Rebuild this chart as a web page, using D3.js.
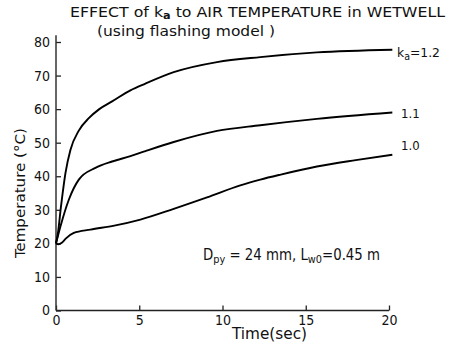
<!DOCTYPE html>
<html>
<head>
<meta charset="utf-8">
<script src="https://cdn.jsdelivr.net/npm/d3@7"></script>
<style>
  body { margin: 0; background: #fff; }
  svg { display: block; }
  text { font-family: 'DejaVu Sans Condensed', 'Liberation Sans Narrow', 'DejaVu Sans', sans-serif; fill: #111; }
</style>
</head>
<body>
<div id="chart"></div>
<script>
// values: time (sec) and air temperature (°C)
let tK12 = [0, 0.1, 0.3, 0.57, 0.87, 1.37, 1.97, 2.6, 3.37, 4.47, 5.37, 7.07, 9.67, 12.27, 15.67, 20.2]
let tempK12 = [20, 22.5, 31, 41, 47.9, 53.6, 57.3, 60, 62.3, 65.6, 67.6, 71.0, 74.0, 75.5, 76.9, 77.7]

let tK11 = [0, 0.27, 0.77, 1.37, 2.37, 3.37, 4.47, 5.37, 7.07, 9.67, 12.27, 15.67, 20.2]
let tempK11 = [20, 25.1, 33, 39, 42.5, 44.4, 46.0, 47.5, 50.2, 53.5, 55.2, 57.1, 59.0]

let tK10 = [0, 0.15, 0.35, 0.6, 1.07, 2.07, 3.5, 5.07, 7.07, 9.07, 11.07, 12.27, 13.5, 15.67, 18, 20.2]
let tempK10 = [20, 19.7, 20.2, 21.5, 23.1, 24.1, 25.3, 27.1, 30.3, 33.7, 37.3, 39.0, 40.5, 42.9, 44.8, 46.4]

let xTicks = [0, 5, 10, 15, 20]
let yTicks = [0, 10, 20, 30, 40, 50, 60, 70, 80]

let width = 455,
  height = 345

let svg = d3.select('#chart').append('svg')
  .attr('width', width)
  .attr('height', height)

let x = d3.scaleLinear()
  .domain([0, 20])
  .range([56, 389])

let y = d3.scaleLinear()
  .domain([0, 80])
  .range([310.5, 42])

// axes, ticks pointing inwards
let yAxis = svg.append('g')
  .attr('transform', 'translate(' + x(0) + ',0)')
  .call(d3.axisLeft(y).tickValues(yTicks).tickSizeInner(-5).tickSizeOuter(0).tickPadding(6))
yAxis.select('.domain').remove()

let xAxis = svg.append('g')
  .attr('transform', 'translate(0,' + y(0) + ')')
  .call(d3.axisBottom(x).tickValues(xTicks).tickSizeInner(-5).tickSizeOuter(0).tickPadding(5))
xAxis.select('.domain').remove()

svg.selectAll('.tick line')
  .attr('stroke', '#222')
  .attr('stroke-width', 1.3)
svg.selectAll('.tick text')
  .style('font-size', '14px')
  .attr('fill', '#111')

svg.append('line')
  .attr('x1', x(0)).attr('x2', x(0))
  .attr('y1', y(0)).attr('y2', y(82))
  .attr('stroke', '#333')
  .attr('stroke-width', 1.5)

svg.append('line')
  .attr('x1', x(0)).attr('x2', x(20))
  .attr('y1', y(0)).attr('y2', y(0))
  .attr('stroke', '#222')
  .attr('stroke-width', 1.5)

// curves
let line = d3.line()
  .x(d => x(d[0]))
  .y(d => y(d[1]))
  .curve(d3.curveMonotoneX)

let series = [
  d3.zip(tK12, tempK12),
  d3.zip(tK11, tempK11),
  d3.zip(tK10, tempK10)
]

svg.selectAll('.curve')
  .data(series)
  .enter().append('path')
  .attr('class', 'curve')
  .attr('d', line)
  .attr('fill', 'none')
  .attr('stroke', '#000')
  .attr('stroke-width', 1.9)

// curve labels
let lab12 = svg.append('text')
  .attr('x', 397)
  .attr('y', 57)
  .style('font-size', '13px')
  .attr('textLength', 43)
  .attr('lengthAdjust', 'spacingAndGlyphs')
lab12.append('tspan').text('k')
lab12.append('tspan').attr('dy', 3).style('font-size', '10px').text('a')
lab12.append('tspan').attr('dy', -3).text('=1.2')

svg.append('text')
  .attr('x', 401)
  .attr('y', 118)
  .style('font-size', '13px')
  .text('1.1')

svg.append('text')
  .attr('x', 401)
  .attr('y', 150)
  .style('font-size', '13px')
  .text('1.0')

// title
let title = svg.append('text')
  .attr('x', 70)
  .attr('y', 17)
  .style('font-size', '14px')
  .attr('textLength', 375)
  .attr('lengthAdjust', 'spacingAndGlyphs')
title.append('tspan').text('EFFECT of k')
title.append('tspan').attr('dy', 2).style('font-size', '10px').style('font-weight', 'bold').text('a')
title.append('tspan').attr('dy', -2).text('  to AIR TEMPERATURE in WETWELL')

svg.append('text')
  .attr('x', 97)
  .attr('y', 36)
  .style('font-size', '14px')
  .attr('textLength', 178)
  .attr('lengthAdjust', 'spacingAndGlyphs')
  .text('(using flashing model )')

// annotation
let note = svg.append('text')
  .attr('x', 203)
  .attr('y', 260)
  .style('font-size', '15px')
  .attr('textLength', 177)
  .attr('lengthAdjust', 'spacingAndGlyphs')
note.append('tspan').text('D')
note.append('tspan').attr('dy', 3).style('font-size', '11px').text('py')
note.append('tspan').attr('dy', -3).text(' = 24 mm, L')
note.append('tspan').attr('dy', 3).style('font-size', '11px').text('w0')
note.append('tspan').attr('dy', -3).text('=0.45 m')

// axis titles
svg.append('text')
  .attr('x', 232)
  .attr('y', 339)
  .style('font-size', '15px')
  .attr('textLength', 75)
  .attr('lengthAdjust', 'spacingAndGlyphs')
  .text('Time(sec)')

svg.append('text')
  .attr('transform', 'translate(25,193) rotate(-90)')
  .attr('text-anchor', 'middle')
  .style('font-size', '14px')
  .attr('textLength', 130)
  .attr('lengthAdjust', 'spacingAndGlyphs')
  .text('Temperature (°C)')
</script>
</body>
</html>
